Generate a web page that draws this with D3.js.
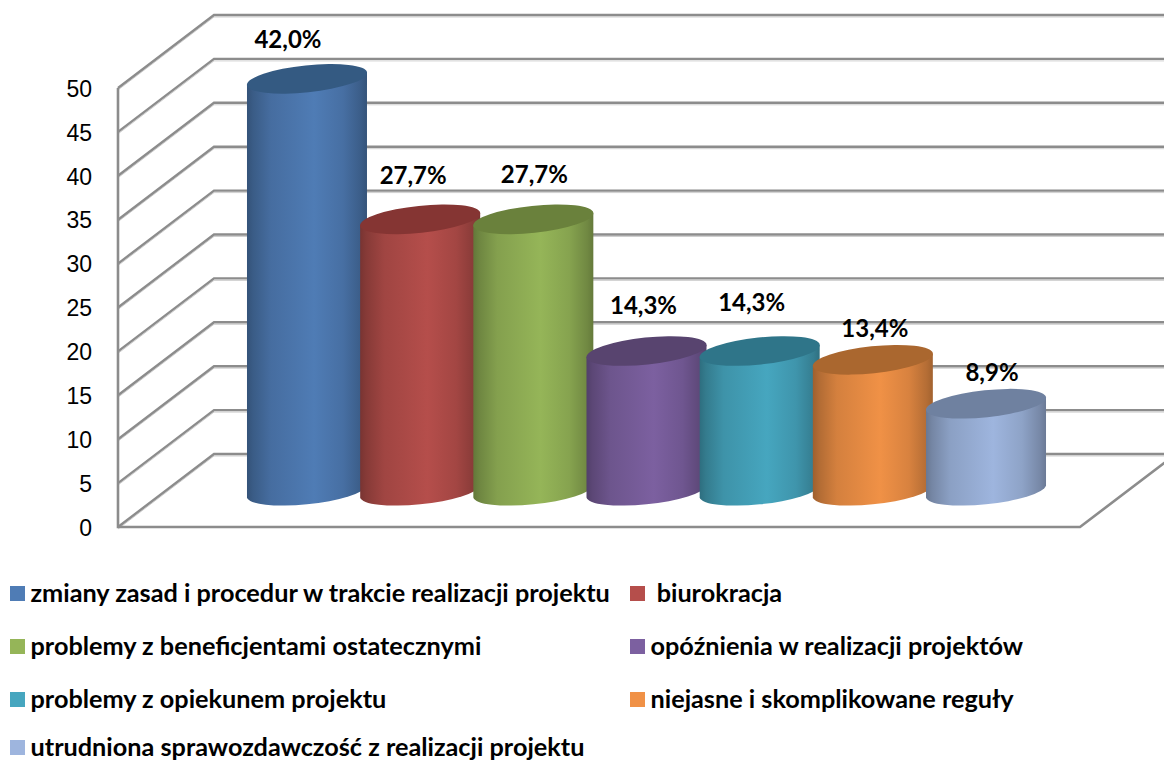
<!DOCTYPE html>
<html>
<head>
<meta charset="utf-8">
<script src="https://cdn.jsdelivr.net/npm/d3@7"></script>
<style>
  body { margin: 0; background: #fff; }
  svg { display: block; font-family: Lato, "Open Sans", sans-serif; }
  .axis text { font-size: 23px; fill: #000; }
  .data-label { font-size: 24px; font-weight: 700; fill: #000; text-anchor: middle; }
  .legend-label { font-size: 25.25px; font-weight: 700; fill: #000; white-space: pre; }
</style>
</head>
<body>
<div id="chart"></div>
<script>
// Data (bars are drawn from counts, labelled with shares)
const categories = [
  "zmiany zasad i procedur w trakcie realizacji projektu",
  " biurokracja",
  "problemy z beneficjentami ostatecznymi",
  "opóźnienia w realizacji projektów",
  "problemy z opiekunem projektu",
  "niejasne i skomplikowane reguły",
  "utrudniona sprawozdawczość z realizacji projektu"
];
const counts = [47, 31, 31, 16, 16, 15, 10];
const shareLabels = ["42,0%", "27,7%", "27,7%", "14,3%", "14,3%", "13,4%", "8,9%"];
const yTicks = [0, 5, 10, 15, 20, 25, 30, 35, 40, 45, 50];

// Colours per series
const bodyColors = ["#4f7cb5", "#b54e4b", "#95b558", "#7c60a0", "#46a6bf", "#f09146", "#9eb5de"];
const capColors  = ["#345a82", "#853533", "#6a813c", "#58446f", "#2f7589", "#aa672f", "#6f81a0"];

// Layout
const width = 1164, height = 762;
const axisX = 118;
const depthX = 96, depthY = -73;       // front axis -> back wall
const floorRight = 1080;
const rx = 60.4, ry = 13.5, tilt = -6; // cylinder ellipse
const tangentX = 60, tangentY = 6;
const gridColor = "#8c8c8c", gridShade = "#cfcfcf";
const labelNudge = [[-19, -38], [-7, -43], [1, -44], [-3, -45], [-8, -48], [2, -30], [6, -30]];

const svg = d3.select("#chart").append("svg")
  .attr("width", width)
  .attr("height", height);

const y = d3.scaleLinear([0, 50], [527, 88]);
const x = d3.scaleBand(categories, [250.4, 1042.6]);
const center = c => x(c) + x.bandwidth() / 2;

// Walls
const grid = svg.append("g").attr("fill", "none");

function wallPath(v) {
  return `M${axisX},${y(v)}L${axisX + depthX},${y(v) + depthY}L${width + 20},${y(v) + depthY}`;
}
grid.selectAll("path.shade")
  .data(yTicks)
  .join("path")
    .attr("class", "shade")
    .attr("d", wallPath)
    .attr("transform", "translate(0,2)")
    .attr("stroke", gridShade)
    .attr("stroke-width", 1);
grid.selectAll("path.line")
  .data(yTicks)
  .join("path")
    .attr("class", "line")
    .attr("d", wallPath)
    .attr("stroke", gridColor)
    .attr("stroke-width", 2.4);

// Front axis and floor edge
grid.append("path")
  .attr("d", `M${axisX},${y(50)}L${axisX},${y(0)}L${floorRight},${y(0)}L${floorRight + depthX},${y(0) + depthY}`)
  .attr("stroke", gridColor)
  .attr("stroke-width", 2.6);

// Y axis labels
svg.append("g")
  .attr("class", "axis")
  .attr("transform", `translate(${axisX},0)`)
  .call(d3.axisLeft(y).tickValues(yTicks).tickSize(0).tickPadding(26))
  .call(g => g.select(".domain").remove())
  .call(g => g.selectAll("text").attr("dy", "0.36em"));

// Gradients
const defs = svg.append("defs");
bodyColors.forEach((col, i) => {
  const g = defs.append("linearGradient").attr("id", `body-${i}`);
  [[0, 1.15], [0.05, 0.85], [0.2, 0.35], [0.56, 0], [0.8, 0.3], [0.95, 0.8], [1, 1.1]].forEach(([o, k]) => {
    g.append("stop")
      .attr("offset", `${o * 100}%`)
      .attr("stop-color", d3.color(col).darker(k));
  });
});

// Cylinders, left to right so each one overlaps the previous
const baseY = y(0) + depthY / 2 + 1;
const heightOf = v => y(0) - y(v);

const bars = svg.append("g")
  .selectAll("g")
  .data(categories.map((c, i) => ({c, i, v: counts[i]})))
  .join("g");

bars.append("path")
  .attr("fill", d => `url(#body-${d.i})`)
  .attr("d", d => {
    const cx = center(d.c), top = baseY - heightOf(d.v);
    return `M${cx - tangentX},${top + tangentY}L${cx - tangentX},${baseY + tangentY}` +
      `A${rx},${ry} ${tilt} 0 0 ${cx + tangentX},${baseY - tangentY}` +
      `L${cx + tangentX},${top - tangentY}Z`;
  });

bars.append("ellipse")
  .attr("cx", d => center(d.c))
  .attr("cy", d => baseY - heightOf(d.v))
  .attr("rx", rx)
  .attr("ry", ry)
  .attr("transform", d => `rotate(${tilt},${center(d.c)},${baseY - heightOf(d.v)})`)
  .attr("fill", d => capColors[d.i]);

// Data labels
bars.append("text")
  .attr("class", "data-label")
  .attr("x", d => center(d.c) + labelNudge[d.i][0])
  .attr("y", d => baseY - heightOf(d.v) + labelNudge[d.i][1] - 1)
  .attr("dy", "0.36em")
  .text(d => shareLabels[d.i]);

// Legend, two columns; last row pulled up a little so its descenders stay on the page
const legendX = [10, 630], legendRows = [593.5, 646.5, 699.5, 747.5];
const legend = svg.append("g")
  .selectAll("g")
  .data(categories)
  .join("g")
    .attr("transform", (d, i) => `translate(${legendX[i % 2]},${legendRows[Math.floor(i / 2)]})`);

legend.append("rect")
  .attr("y", -7.5)
  .attr("width", 15)
  .attr("height", 15)
  .attr("fill", (d, i) => bodyColors[i]);

legend.append("text")
  .attr("class", "legend-label")
  .attr("x", 20.5)
  .attr("dy", "0.34em")
  .text(d => d);
</script>
</body>
</html>
